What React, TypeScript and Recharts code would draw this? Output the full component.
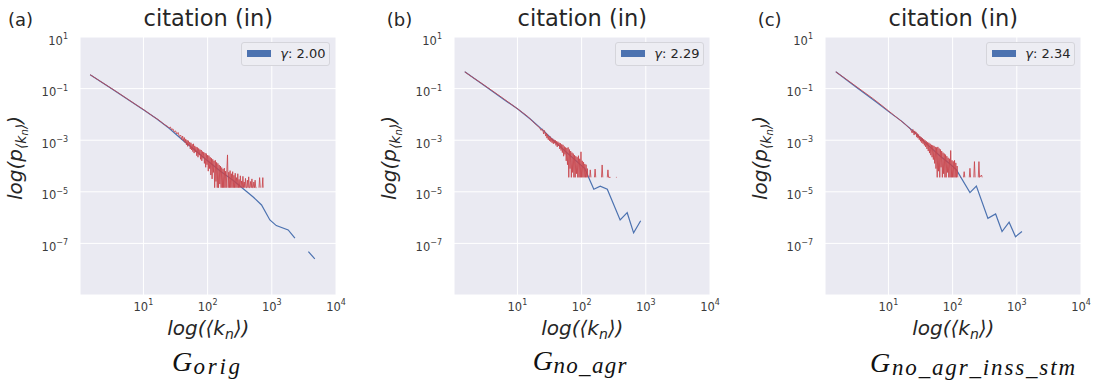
import { LineChart, Line, XAxis, YAxis, CartesianGrid, Legend } from 'recharts';

// values are log10 of <k_n> and p(<k_n>)
type Pt = [number, number | null];

const panelLabels = ['(a)', '(b)', '(c)'];
const titles = ['citation (in)', 'citation (in)', 'citation (in)'];
const gammas = [2.0, 2.29, 2.34];
const captionSubs = ['orig', 'no_agr', 'no_agr_inss_stm'];
const xTicks = [1, 2, 3, 4];
const yTicks = [-7, -5, -3, -1, 1];

const origRed: Pt[] = [
  [0.17, -0.46], [0.3, -0.67], [0.45, -0.91], [0.6, -1.15], [0.75, -1.4], [0.9, -1.65], [1.0, -1.81],
  [1.08, -1.95], [1.16, -2.09], [1.24, -2.22], [1.3, -2.34], [1.35, -2.43], [1.38, -2.47], [1.4, -2.53],
  [1.42, -2.49], [1.44, -2.6], [1.46, -2.56], [1.48, -2.68], [1.5, -2.64], [1.52, -2.76], [1.54, -2.7],
  [1.56, -2.86], [1.58, -2.8], [1.6, -2.98], [1.61, -2.84], [1.62, -2.92], [1.63, -3.04], [1.64, -2.9],
  [1.65, -3.1], [1.66, -2.96], [1.67, -3.18], [1.68, -3.0], [1.69, -3.24], [1.7, -3.02], [1.71, -3.2],
  [1.72, -3.08], [1.73, -3.34], [1.74, -3.1], [1.75, -3.38], [1.76, -3.16], [1.77, -3.44], [1.78, -3.14],
  [1.79, -3.5], [1.8, -3.22], [1.81, -3.46], [1.82, -3.26], [1.83, -3.6], [1.84, -3.28], [1.85, -3.66],
  [1.86, -3.32], [1.87, -3.58], [1.88, -3.36], [1.89, -3.74], [1.9, -3.38], [1.91, -3.8], [1.92, -3.44],
  [1.93, -3.7], [1.94, -3.46], [1.95, -3.9], [1.96, -3.5], [1.97, -4.05], [1.98, -3.52], [1.99, -3.95],
  [2.0, -3.58], [2.01, -4.2], [2.02, -3.6], [2.03, -4.1], [2.04, -3.66], [2.05, -4.35], [2.06, -3.7],
  [2.07, -4.5], [2.08, -3.74], [2.09, -4.25], [2.1, -3.8], [2.11, -4.84], [2.12, -3.78], [2.13, -4.6],
  [2.14, -3.86], [2.15, -4.84], [2.16, -3.9], [2.17, -4.84], [2.18, -3.96], [2.19, -4.7], [2.2, -4.0],
  [2.21, -4.84], [2.22, -4.06], [2.23, -4.84], [2.24, -4.12], [2.25, -4.84], [2.26, -4.08], [2.27, -4.84],
  [2.28, -4.2], [2.29, -4.84], [2.3, -4.15], [2.31, -3.57], [2.32, -4.84], [2.33, -4.24], [2.34, -4.84],
  [2.35, -4.18], [2.36, -4.84], [2.37, -4.3], [2.38, -4.84], [2.39, -4.22], [2.4, -4.84], [2.41, -4.36],
  [2.42, -4.84], [2.43, -4.28], [2.44, -4.84], [2.45, -4.45], [2.46, -4.84], [2.47, -4.3], [2.48, -4.84],
  [2.49, -4.52], [2.5, -4.84], [2.51, -4.38], [2.52, -4.84], [2.53, -4.58], [2.54, -4.84], [2.55, -4.4],
  [2.56, -4.84], [2.57, -4.62], [2.58, -4.84], [2.59, -4.48], [2.6, -4.84], [2.61, -4.84], [2.62, -4.55],
  [2.63, -4.84], [2.64, -4.42], [2.65, -4.84], [2.66, -4.84], [2.67, -4.6], [2.68, -4.84], [2.69, -4.5],
  [2.7, -4.84], [2.71, -4.84], [2.72, -4.62], [2.73, -4.84], [2.74, -4.55], [2.75, -4.84], [2.76, -4.84],
  [2.77, null], [2.8, -4.84], [2.81, -4.45], [2.82, -4.84], [2.83, null], [2.85, -4.84], [2.86, -4.45],
  [2.865, -4.84],
];
const origBlue: Pt[] = [
  [0.17, -0.46], [0.5, -1.0], [0.8, -1.49], [1.0, -1.82], [1.2, -2.16], [1.4, -2.54], [1.6, -2.97],
  [1.8, -3.38], [2.0, -3.8], [2.2, -4.2], [2.4, -4.56], [2.55, -4.87], [2.71, -5.2], [2.84, -5.51],
  [2.97, -6.09], [3.07, -6.31], [3.255, -6.48], [3.36, -6.8], [3.46, null], [3.57, -7.32], [3.67, -7.6],
];

const noAgrRed: Pt[] = [
  [0.18, -0.35], [0.3, -0.56], [0.45, -0.81], [0.6, -1.07], [0.75, -1.33], [0.9, -1.6], [1.0, -1.78],
  [1.08, -1.93], [1.16, -2.08], [1.24, -2.28], [1.3, -2.42], [1.34, -2.5], [1.37, -2.62], [1.39, -2.56],
  [1.41, -2.76], [1.42, -2.62], [1.43, -2.7], [1.44, -2.84], [1.45, -2.72], [1.46, -2.92], [1.47, -2.78],
  [1.48, -2.98], [1.49, -2.84], [1.5, -3.02], [1.51, -2.86], [1.52, -3.06], [1.53, -2.92], [1.54, -3.1],
  [1.55, -2.94], [1.56, -3.14], [1.57, -2.98], [1.58, -3.12], [1.59, -3.0], [1.6, -3.2], [1.61, -3.04],
  [1.62, -3.26], [1.63, -3.06], [1.64, -3.22], [1.65, -3.1], [1.66, -3.34], [1.67, -3.12], [1.68, -3.4],
  [1.69, -3.16], [1.7, -3.48], [1.71, -3.18], [1.72, -3.62], [1.73, -3.24], [1.74, -3.55], [1.75, -3.28],
  [1.76, -3.8], [1.77, -3.3], [1.78, -3.95], [1.79, -3.28], [1.8, -4.44], [1.81, -3.36], [1.82, -4.1],
  [1.83, -3.42], [1.84, -4.44], [1.85, -3.48], [1.86, -4.25], [1.87, -3.52], [1.88, -4.44], [1.89, -3.58],
  [1.9, -4.44], [1.91, -3.62], [1.92, -4.3], [1.93, -3.66], [1.94, -4.44], [1.95, -3.6], [1.96, -4.44],
  [1.97, -3.72], [1.98, -4.44], [1.99, -3.45], [2.0, -4.44], [2.01, -3.8], [2.02, -4.44], [2.03, -3.85],
  [2.04, -4.44], [2.05, -3.92], [2.06, -4.44], [2.07, -3.95], [2.08, -4.44], [2.09, -4.1], [2.095, -4.44],
  [2.1, null], [2.125, -4.44], [2.135, -4.15], [2.145, -4.44], [2.16, null], [2.2, -4.44], [2.21, -4.12],
  [2.22, -4.44], [2.24, null], [2.31, -4.44], [2.32, -3.96], [2.33, -4.44], [2.36, null], [2.4, -4.44],
  [2.41, -4.15], [2.42, -4.44], [2.45, -4.44], [2.46, null], [2.535, -4.44], [2.545, -4.44],
];
const noAgrBlue: Pt[] = [
  [0.18, -0.35], [0.5, -0.91], [0.8, -1.44], [1.0, -1.78], [1.2, -2.18], [1.4, -2.62], [1.6, -3.1],
  [1.8, -3.55], [1.95, -3.88], [2.05, -4.1], [2.12, -4.5], [2.19, -4.9], [2.29, -4.78], [2.4, -4.9],
  [2.6, -6.09], [2.71, -5.81], [2.81, -6.59], [2.92, -6.12],
];

const noAgrInssStmRed: Pt[] = [
  [0.18, -0.35], [0.3, -0.56], [0.45, -0.83], [0.6, -1.1], [0.75, -1.37], [0.9, -1.66], [1.0, -1.86],
  [1.08, -2.02], [1.16, -2.18], [1.22, -2.3], [1.27, -2.4], [1.31, -2.5], [1.34, -2.55], [1.37, -2.72],
  [1.38, -2.58], [1.39, -2.66], [1.4, -2.8], [1.41, -2.64], [1.42, -2.76], [1.43, -2.68], [1.44, -2.88],
  [1.45, -2.74], [1.46, -2.92], [1.47, -2.78], [1.48, -2.98], [1.49, -2.84], [1.5, -3.04], [1.51, -2.88],
  [1.52, -3.1], [1.53, -2.92], [1.54, -3.14], [1.55, -2.96], [1.56, -3.2], [1.57, -3.0], [1.58, -3.26],
  [1.59, -3.04], [1.6, -3.34], [1.61, -3.08], [1.62, -3.42], [1.63, -3.1], [1.64, -3.5], [1.65, -3.14],
  [1.66, -3.58], [1.67, -3.18], [1.68, -3.66], [1.69, -3.2], [1.7, -3.75], [1.71, -3.22], [1.72, -3.9],
  [1.73, -3.26], [1.74, -4.1], [1.75, -3.28], [1.76, -4.44], [1.77, -3.26], [1.78, -4.2], [1.79, -3.32],
  [1.8, -4.44], [1.81, -3.36], [1.82, -4.05], [1.83, -3.42], [1.84, -4.44], [1.85, -3.48], [1.86, -4.3],
  [1.87, -3.52], [1.88, -4.44], [1.89, -3.56], [1.9, -4.44], [1.91, -3.62], [1.92, -4.25], [1.93, -3.68],
  [1.94, -4.44], [1.95, -3.72], [1.96, -4.44], [1.97, -3.4], [1.98, -4.44], [1.99, -3.78], [2.0, -4.44],
  [2.01, -3.82], [2.02, -4.44], [2.03, -3.78], [2.04, -4.44], [2.05, -3.88], [2.06, -4.44], [2.07, -4.0],
  [2.08, -4.44], [2.09, null], [2.12, -4.44], [2.13, -4.44], [2.14, null], [2.17, -4.44], [2.18, -4.22],
  [2.19, -4.44], [2.21, null], [2.26, -4.44], [2.27, -4.09], [2.28, -4.44], [2.3, null], [2.33, -4.44],
  [2.34, -3.83], [2.35, -4.44], [2.37, null], [2.4, -4.44], [2.41, -3.83], [2.42, -4.44], [2.45, -4.35],
  [2.46, -4.44],
];
const noAgrInssStmBlue: Pt[] = [
  [0.18, -0.35], [0.5, -0.95], [0.8, -1.5], [1.04, -1.96], [1.2, -2.25], [1.4, -2.68], [1.6, -3.15],
  [1.8, -3.6], [1.95, -3.9], [2.06, -4.15], [2.27, -5.03], [2.37, -4.78], [2.55, -6.03], [2.67, -5.86],
  [2.77, -6.54], [2.88, -6.18], [2.98, -6.74], [3.08, -6.54],
];

const redSeries = [origRed, noAgrRed, noAgrInssStmRed];
const blueSeries = [origBlue, noAgrBlue, noAgrInssStmBlue];

// layout of the three panels (page pixels)
const panels = [
  { plotLeft: 80.3, labelX: 8, gX: 172, subX: 193.5, subW: 46.5, capY: 371 },
  { plotLeft: 454.3, labelX: 386.7, gX: 532.7, subX: 553.5, subW: 73, capY: 370 },
  { plotLeft: 825.3, labelX: 757.7, gX: 870, subX: 892, subW: 183, capY: 372 },
];

const FONT = "'DejaVu Sans', sans-serif";
const SERIF = "'Liberation Serif', serif";
const TEXT = '#262626';
const TICK = '#3b3b3b';
const AXIS_W = 60;
const PLOT_W = 256;
const PLOT_H = 258;
const TOP = 37;

const fmtExp = (v: number) => (v < 0 ? `\u2212${Math.abs(v)}` : `${v}`);

const XTick = ({ x, payload }: any) => (
  <text x={x} y={TOP + PLOT_H + 15.5} textAnchor="middle" fill={TICK} fontSize={11.5} fontFamily={FONT}>
    10
    <tspan dy={-5.5} fontSize={8}>
      {fmtExp(payload.value)}
    </tspan>
  </text>
);

const YTick = ({ y, payload }: any) => (
  <text x={AXIS_W - 12} y={y + 7.5} textAnchor="end" fill={TICK} fontSize={11.5} fontFamily={FONT}>
    10
    <tspan dy={-5.5} fontSize={8}>
      {fmtExp(payload.value)}
    </tspan>
  </text>
);

const toRows = (pts: Pt[]) => pts.map(([k, p]) => ({ k, p }));

function GammaLegend({ gamma }: { gamma: number }) {
  return (
    <div
      style={{
        width: 89,
        height: 24,
        boxSizing: 'border-box',
        border: '1px solid #d5d5db',
        borderRadius: 3,
        background: '#ededf3',
        position: 'relative',
        fontFamily: FONT,
      }}
    >
      <div style={{ position: 'absolute', left: 5, top: 7, width: 24, height: 7, background: '#4C72B0' }} />
      <div style={{ position: 'absolute', left: 38, top: 3, fontSize: 13, lineHeight: '16px', color: TEXT }}>
        <i>γ</i>: {gamma.toFixed(2)}
      </div>
    </div>
  );
}

function Panel({ i }: { i: number }) {
  const p = panels[i];
  return (
    <div style={{ position: 'absolute', left: p.plotLeft - AXIS_W, top: 0 }}>
      <LineChart width={AXIS_W + PLOT_W + 10} height={TOP + PLOT_H + 35} margin={{ top: TOP, right: 10, bottom: 0, left: 0 }}>
        <CartesianGrid fill="#EAEAF2" stroke="#ffffff" strokeWidth={1} />
        <XAxis
          type="number"
          dataKey="k"
          domain={[0.012, 4]}
          ticks={xTicks}
          allowDataOverflow
          axisLine={false}
          tickLine={false}
          height={35}
          tick={<XTick />}
        />
        <YAxis
          type="number"
          domain={[-9, 1]}
          ticks={yTicks}
          allowDataOverflow
          axisLine={false}
          tickLine={false}
          width={AXIS_W}
          tick={<YTick />}
        />
        <Legend
          layout="horizontal"
          verticalAlign="middle"
          align="center"
          wrapperStyle={{ left: AXIS_W + PLOT_W - 6 - 89, top: 42, width: 89, height: 24 }}
          content={() => <GammaLegend gamma={gammas[i]} />}
        />
        <Line
          data={toRows(blueSeries[i])}
          dataKey="p"
          stroke="#4C72B0"
          strokeWidth={1.2}
          dot={false}
          activeDot={false}
          connectNulls={false}
          isAnimationActive={false}
        />
        <Line
          data={toRows(redSeries[i])}
          dataKey="p"
          stroke="#C8444B"
          strokeOpacity={0.85}
          strokeWidth={1}
          dot={false}
          activeDot={false}
          connectNulls={false}
          isAnimationActive={false}
        />
      </LineChart>
    </div>
  );
}

export default function App() {
  return (
    <div style={{ position: 'absolute', left: 0, top: 0, width: 1106, height: 383, background: '#fff' }}>
      <svg width={1106} height={383} style={{ position: 'absolute', left: 0, top: 0 }}>
        {panels.map((p, i) => {
          const cx = p.plotLeft + PLOT_W / 2;
          const ly = p.plotLeft - 58;
          return (
            <g key={i} fill={TEXT} fontFamily={FONT}>
              <text x={p.labelX} y={26} fontSize={18}>
                {panelLabels[i]}
              </text>
              <text x={cx} y={26} fontSize={22.5} textAnchor="middle">
                {titles[i]}
              </text>
              <text x={cx} y={335} fontSize={20} fontStyle="italic" textAnchor="middle">
                log(⟨k
                <tspan dy={4} fontSize={14}>n</tspan>
                <tspan dy={-4}>⟩)</tspan>
              </text>
              <text transform={`translate(${ly},158) rotate(-90)`} fontSize={20} fontStyle="italic" textAnchor="middle">
                log(p
                <tspan dy={4} fontSize={14}>⟨k</tspan>
                <tspan dy={2} fontSize={10}>n</tspan>
                <tspan dy={-2} fontSize={14}>⟩</tspan>
                <tspan dy={-4}>)</tspan>
              </text>
              <text x={p.gX} y={p.capY} fontSize={28} fontStyle="italic" fontFamily={SERIF} fill="#111">
                G
              </text>
              <text
                x={p.subX}
                y={p.capY + 3}
                fontSize={23}
                fontStyle="italic"
                fontFamily={SERIF}
                fill="#111"
                textLength={p.subW}
                lengthAdjust="spacing"
              >
                {captionSubs[i]}
              </text>
            </g>
          );
        })}
      </svg>
      {panels.map((_, i) => (
        <Panel key={i} i={i} />
      ))}
    </div>
  );
}
